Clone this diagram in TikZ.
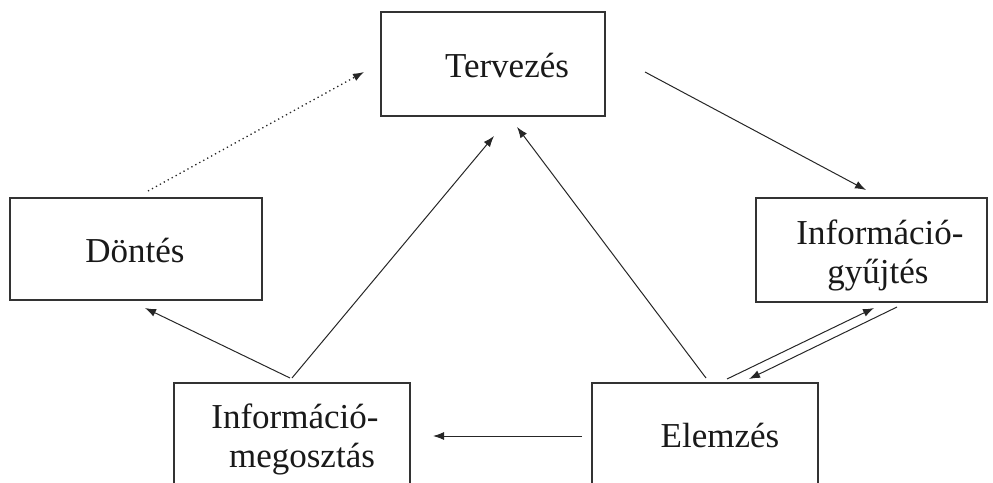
\documentclass[tikz,border=0pt]{standalone}
\usepackage{fontspec}
\setmainfont{Liberation Serif}
\usetikzlibrary{arrows.meta}
\begin{document}
\begin{tikzpicture}[x=1pt,y=-1pt,
  box/.style={draw=black!80, line width=1.3pt, rectangle, inner sep=0pt, fill=white},
  lbl/.style={anchor=base, inner sep=0pt, text=black!90, font=\fontsize{35}{38}\selectfont},
  conn/.style={line width=1pt, draw=black!85, -{Latex[length=11pt,width=8pt]}},
  dots/.style={conn, line width=1.3pt, dash pattern=on 1.3pt off 3.2pt}]
\useasboundingbox (0,0) rectangle (993,482);
\clip (0,0) rectangle (993,482);

% boxes
\node[box, minimum width=224pt, minimum height=104pt] (terv) at (493,64) {};
\node[box, minimum width=252pt, minimum height=102pt] (dont) at (136,249) {};
\node[box, minimum width=231pt, minimum height=104pt] (gyuj) at (871.5,250) {};
\node[box, minimum width=236pt, minimum height=106pt] (meg)  at (292,436) {};
\node[box, minimum width=226pt, minimum height=106pt] (elem) at (705,436) {};

% labels
\node[lbl] (tervT) at (507,77) {Tervezés};
\node[lbl] (dontT) at (135,262) {Döntés};
\node[lbl] (gyujT1) at (880,244) {Információ-};
\node[lbl] (gyujT2) at (878,283) {gyűjtés};
\node[lbl] (megT1) at (295,428) {Információ-};
\node[lbl] (megT2) at (302,467) {megosztás};
\node[lbl] (elemT) at (720,447) {Elemzés};

% connector end points
\coordinate (d1) at (148,191);  \coordinate (t1) at (364,72);
\coordinate (t2) at (645,72);   \coordinate (g1) at (866,190);
\coordinate (e1) at (706,378);  \coordinate (t3) at (517,127);
\coordinate (m1) at (292,378);  \coordinate (t4) at (494,136);
\coordinate (m2) at (290,378);  \coordinate (d2) at (145,308);
\coordinate (e2) at (582,436);  \coordinate (m3) at (433,436);
\coordinate (e3) at (727,379);  \coordinate (g2) at (874,308);
\coordinate (g3) at (897,307);  \coordinate (e4) at (749,379);

% connectors
\draw[dots] (d1) -- (t1);
\draw[conn] (t2) -- (g1);
\draw[conn] (e1) -- (t3);
\draw[conn] (m1) -- (t4);
\draw[conn] (m2) -- (d2);
\draw[conn] (e2) -- (m3);
\draw[conn] (e3) -- (g2);
\draw[conn] (g3) -- (e4);
\end{tikzpicture}
\end{document}
